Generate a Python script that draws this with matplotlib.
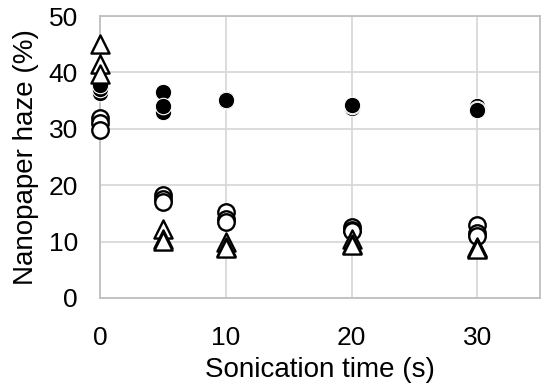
import matplotlib
matplotlib.use("Agg")
import matplotlib.pyplot as plt

plt.rcParams['font.family'] = ['Liberation Sans', 'DejaVu Sans']

# sonication time (s), three replicates per time point
times = [0, 0, 0, 5, 5, 5, 10, 10, 10, 20, 20, 20, 30, 30, 30]

# filled circles
haze_filled = [36.4, 37.0, 37.8, 33.0, 36.5, 34.0, 35.2, 35.0, 35.1,
               33.7, 34.0, 34.2, 34.0, 33.6, 33.3]
# open circles
haze_open = [32.0, 31.0, 29.8, 18.3, 17.5, 17.0, 15.3, 14.0, 13.5,
             12.6, 12.0, 11.8, 13.0, 11.5, 11.0]
# open triangles
haze_tri = [45.0, 41.5, 39.8, 12.2, 10.5, 10.1, 10.0, 9.0, 8.8,
            10.5, 9.5, 9.3, 9.0, 8.8, 8.7]

xticks = [0, 10, 20, 30]
yticks = [0, 10, 20, 30, 40, 50]

fig = plt.figure(figsize=(5.5, 3.92), dpi=100)
ax = fig.add_axes([0.182, 0.240, 0.800, 0.719])

ax.scatter(times, haze_open, s=140, facecolor='white', edgecolor='black',
           linewidth=1.7, zorder=3, clip_on=False)
ax.scatter(times, haze_filled, s=140, facecolor='black', edgecolor='white',
           linewidth=0.8, zorder=4, clip_on=False)
ax.scatter(times, haze_tri, marker='^', s=170, facecolor='white',
           edgecolor='black', linewidth=1.7, zorder=5, clip_on=False)

ax.set_xlim(0, 35)
ax.set_ylim(0, 50)
ax.set_xticks(xticks)
ax.set_yticks(yticks)
ax.grid(True, color='#d9d9d9', linewidth=1.3)
ax.set_axisbelow(True)
for sp in ax.spines.values():
    sp.set_color('#bfbfbf')
    sp.set_linewidth(1.3)

ax.tick_params(length=0, labelsize=19)
ax.tick_params(axis='x', pad=20)
ax.tick_params(axis='y', pad=16)

ax.set_xlabel('Sonication time (s)', fontsize=20, labelpad=5)
ax.set_ylabel('Nanopaper haze (%)', fontsize=20, labelpad=7)

fig.savefig('out.png', dpi=100)
